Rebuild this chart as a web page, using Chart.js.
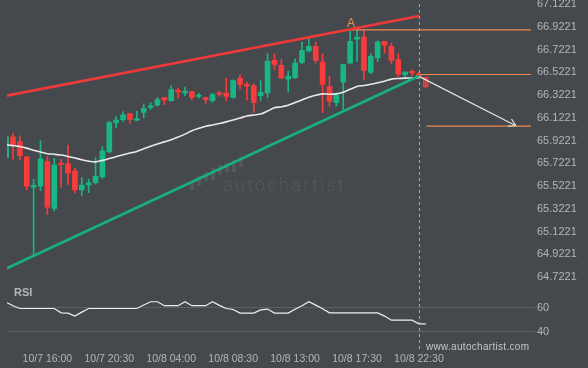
<!DOCTYPE html>
<html>
<head>
<meta charset="utf-8">
<script src="https://cdn.jsdelivr.net/npm/chart.js@4.4.1/dist/chart.umd.min.js"></script>
<style>
  html, body { margin: 0; padding: 0; background: #45484d; }
  canvas { display: block; }
</style>
</head>
<body>
<canvas id="chart" width="588" height="368"></canvas>
<script>
// 30 minute candles, index 0 = first visible bar, last one is the hollow forecast bar
const opens  = [65.773, 65.956, 65.911, 65.779, 65.513, 65.522, 65.737, 65.325, 65.719, 65.717,
                65.655, 65.489, 65.533, 65.551, 65.602, 65.823, 66.080, 66.106, 66.159, 66.103,
                66.171, 66.215, 66.233, 66.301, 66.274, 66.363, 66.342, 66.354, 66.310, 66.301,
                66.274, 66.341, 66.339, 66.303, 66.469, 66.416, 66.407, 66.318, 66.342, 66.628,
                66.584, 66.463, 66.475, 66.608, 66.711, 66.752, 66.613, 66.398, 66.257, 66.436,
                66.604, 66.814, 66.832, 66.525, 66.650, 66.795, 66.752, 66.634, 66.503, 66.525,
                66.509, 66.480];
const highs  = [65.965, 65.988, 65.964, 65.783, 65.581, 65.920, 65.779, 65.767, 65.758, 65.882,
                65.679, 65.595, 65.581, 65.772, 65.870, 66.091, 66.133, 66.177, 66.162, 66.181,
                66.245, 66.259, 66.303, 66.303, 66.404, 66.387, 66.392, 66.358, 66.339, 66.305,
                66.339, 66.358, 66.469, 66.456, 66.503, 66.436, 66.422, 66.451, 66.687, 66.686,
                66.637, 66.534, 66.641, 66.788, 66.826, 66.788, 66.687, 66.487, 66.341, 66.593,
                66.889, 66.894, 66.894, 66.686, 66.799, 66.796, 66.779, 66.693, 66.529, 66.547,
                66.522, 66.480];
const lows   = [65.765, 65.758, 65.755, 65.489, 64.902, 65.484, 65.272, 65.301, 65.513, 65.537,
                65.463, 65.440, 65.463, 65.542, 65.590, 65.817, 66.035, 66.091, 66.073, 66.097,
                66.121, 66.195, 66.227, 66.239, 66.268, 66.298, 66.318, 66.283, 66.295, 66.245,
                66.261, 66.314, 66.274, 66.296, 66.376, 66.279, 66.171, 66.274, 66.301, 66.549,
                66.469, 66.348, 66.469, 66.599, 66.702, 66.604, 66.168, 66.224, 66.226, 66.195,
                66.604, 66.619, 66.457, 66.509, 66.617, 66.690, 66.597, 66.487, 66.478, 66.494,
                66.478, 66.392];
const closes = [65.956, 65.885, 65.790, 65.522, 65.528, 65.761, 65.336, 65.708, 65.710, 65.637,
                65.489, 65.531, 65.551, 65.610, 65.832, 66.080, 66.103, 66.150, 66.109, 66.109,
                66.206, 66.227, 66.283, 66.277, 66.372, 66.351, 66.357, 66.303, 66.318, 66.283,
                66.327, 66.329, 66.310, 66.451, 66.416, 66.403, 66.257, 66.348, 66.619, 66.593,
                66.472, 66.487, 66.604, 66.717, 66.752, 66.628, 66.416, 66.268, 66.321, 66.591,
                66.796, 66.834, 66.540, 66.664, 66.790, 66.761, 66.628, 66.506, 66.525, 66.518,
                66.487, 66.392];

// moving average (white curve)
const maValues = [65.885, 65.878, 65.870, 65.856, 65.837, 65.822, 65.807, 65.802, 65.795, 65.782,
                  65.769, 65.754, 65.741, 65.735, 65.748, 65.764, 65.780, 65.798, 65.813, 65.826,
                  65.850, 65.872, 65.893, 65.911, 65.930, 65.953, 65.979, 66.009, 66.030, 66.049,
                  66.060, 66.072, 66.087, 66.104, 66.121, 66.138, 66.148, 66.156, 66.183, 66.211,
                  66.220, 66.233, 66.257, 66.280, 66.303, 66.322, 66.333, 66.330, 66.333, 66.348,
                  66.373, 66.398, 66.407, 66.418, 66.431, 66.445, 66.463, 66.469, 66.472, 66.473,
                  66.475];

// RSI pane
const rsiValues = [64.6, 61.7, 59.4, 59.4, 59.4, 59.4, 59.4, 59.4, 55.8, 55.6,
                   53.1, 56.4, 59.4, 59.4, 59.4, 59.4, 59.4, 59.4, 59.4, 59.4,
                   62.3, 65.0, 65.0, 61.7, 61.7, 61.7, 65.0, 61.7, 61.7, 61.7,
                   65.0, 62.0, 59.4, 58.6, 55.6, 55.6, 55.6, 58.2, 58.9, 55.6,
                   55.6, 55.6, 58.8, 61.7, 65.0, 62.2, 59.2, 55.8, 55.8, 55.8,
                   55.8, 55.8, 55.8, 55.8, 55.8, 53.1, 49.7, 49.7, 49.7, 49.7,
                   46.7, 46.7];
const rsiTicks = [40, 60];

// pattern lines (bar index, price)
const resistanceX = [0, 60];
const resistanceY = [66.317, 67.018];
const supportX = [0, 60];
const supportY = [64.795, 66.491];
const levelPrices = [66.897, 66.504, 66.050];
const levelStarts = [50, 60, 61.1];
const levelEnd = 76.3;
const arrowX = [60, 74.1];
const arrowY = [66.487, 66.053];
const peakIndex = 50;
const peakLabel = 'A';
const nowIndex = 60;

// axes
const timeLabels = ['10/7 16:00', '10/7 20:30', '10/8 04:00', '10/8 08:30', '10/8 13:00', '10/8 17:30', '10/8 22:30'];
const timeTickIndex = [6, 15, 24, 33, 42, 51, 60];
const priceTicks = [64.7221, 64.9221, 65.1221, 65.3221, 65.5221, 65.7221, 65.9221,
                    66.1221, 66.3221, 66.5221, 66.7221, 66.9221, 67.1221];

const GREEN = '#19b583';
const RED = '#f93b3b';
const ORANGE = '#ef8a4d';
const TEXT = '#b4b6b9';
const FONT = '"Liberation Sans", Arial, sans-serif';

const lastIdx = opens.length - 1;
const candleColor = opens.map((o, i) => closes[i] >= o ? GREEN : RED);

const toPoints = (xs, ys) => xs.map((x, i) => ({ x: x, y: ys[i] }));

const datasets = [
  {
    label: 'arrow', type: 'line', order: 1,
    data: toPoints(arrowX, arrowY),
    borderColor: '#e4e4e4', borderWidth: 1.2, pointRadius: 0
  },
  {
    label: 'resistance', type: 'line', order: 2,
    data: toPoints(resistanceX, resistanceY),
    borderColor: '#f03a3a', borderWidth: 2.6, pointRadius: 0
  },
  {
    label: 'support', type: 'line', order: 2,
    data: toPoints(supportX, supportY),
    borderColor: '#17b07e', borderWidth: 2.6, pointRadius: 0
  },
  {
    label: 'ma', type: 'line', order: 3,
    data: maValues.map((v, i) => ({ x: i, y: v })),
    borderColor: '#e9e9e9', borderWidth: 1.6, pointRadius: 0, tension: 0.3
  },
  {
    label: 'rsi', type: 'line', order: 3, yAxisID: 'rsi',
    data: rsiValues.map((v, i) => ({ x: i, y: v })),
    borderColor: '#eeeeee', borderWidth: 1.2, pointRadius: 0
  },
  {
    label: 'wicks', type: 'bar', order: 6, grouped: false,
    data: opens.map((o, i) => ({ x: i, y: [lows[i], highs[i]] })),
    backgroundColor: candleColor, barThickness: 1, borderWidth: 0
  },
  {
    label: 'bodies', type: 'bar', order: 5, grouped: false,
    data: opens.map((o, i) => ({ x: i, y: [o, closes[i]] })),
    backgroundColor: candleColor.map((c, i) => i === lastIdx ? 'rgba(0,0,0,0)' : c),
    borderColor: candleColor,
    borderWidth: opens.map((o, i) => i === lastIdx ? 1 : 0),
    borderSkipped: false,
    barThickness: 5, minBarLength: 1.5
  }
];

levelPrices.forEach((p, k) => {
  datasets.push({
    label: 'level' + k, type: 'line', order: 4,
    data: [{ x: levelStarts[k], y: p }, { x: levelEnd, y: p }],
    borderColor: ORANGE, borderWidth: 1.2, pointRadius: 0
  });
});

// no automatic half-label padding, the panes must fill the canvas exactly
const noEdgePadding = (s) => {
  s.paddingTop = 0; s.paddingBottom = 0; s.paddingLeft = 0; s.paddingRight = 0;
};

const decorations = {
  id: 'decorations',
  beforeDraw(chart) {
    const ctx = chart.ctx;
    ctx.save();
    ctx.fillStyle = '#45484d';
    ctx.fillRect(0, 0, chart.width, chart.height);
    ctx.restore();
  },
  beforeDatasetsDraw(chart) {
    // autochartist watermark
    const ctx = chart.ctx;
    ctx.save();
    ctx.fillStyle = '#55585d';
    const bars = [[190, 182, 8], [197, 176, 10], [204, 172, 9], [211, 168, 12], [218, 165, 10],
                  [225, 163, 9], [232, 160, 12], [239, 157, 10]];
    bars.forEach(b => ctx.fillRect(b[0], b[1], 4, b[2]));
    ctx.font = '300 18px Roboto, "Noto Sans", sans-serif';
    ctx.letterSpacing = '2.3px';
    ctx.textBaseline = 'alphabetic';
    ctx.fillText('autochartist', 223, 191);
    ctx.restore();
  },
  afterDatasetsDraw(chart) {
    const ctx = chart.ctx;
    const xs = chart.scales.x, ys = chart.scales.y, rs = chart.scales.rsi;
    const area = chart.chartArea;
    ctx.save();

    // "now" dashed line
    const nx = Math.round(xs.getPixelForValue(nowIndex)) + 0.5;
    ctx.strokeStyle = '#a6a8ab';
    ctx.lineWidth = 1;
    ctx.setLineDash([3, 3]);
    ctx.beginPath();
    ctx.moveTo(nx, area.top + 4);
    ctx.lineTo(nx, area.bottom + 5);
    ctx.stroke();
    ctx.setLineDash([]);

    // arrow head
    const pts = chart.getDatasetMeta(0).data;
    const a = pts[0], b = pts[1];
    const ang = Math.atan2(b.y - a.y, b.x - a.x);
    ctx.strokeStyle = '#e4e4e4';
    ctx.lineWidth = 1.2;
    ctx.beginPath();
    [-0.52, 0.52].forEach(d => {
      ctx.moveTo(b.x, b.y);
      ctx.lineTo(b.x - 8 * Math.cos(ang + d), b.y - 8 * Math.sin(ang + d));
    });
    ctx.stroke();

    // pattern point label
    ctx.fillStyle = ORANGE;
    ctx.font = '12px ' + FONT;
    ctx.textAlign = 'center';
    ctx.textBaseline = 'bottom';
    ctx.fillText(peakLabel, xs.getPixelForValue(peakIndex) + 1, ys.getPixelForValue(highs[peakIndex]) - 1);

    // RSI caption
    ctx.fillStyle = TEXT;
    ctx.font = 'bold 11px ' + FONT;
    ctx.textAlign = 'left';
    ctx.textBaseline = 'middle';
    ctx.fillText('RSI', 14, rs.top + 8);

    // site
    ctx.fillStyle = '#c4c6c9';
    ctx.font = '10px ' + FONT;
    ctx.letterSpacing = '0.3px';
    ctx.textBaseline = 'middle';
    ctx.fillText('www.autochartist.com', 426, area.bottom);
    ctx.restore();
  }
};

new Chart(document.getElementById('chart'), {
  type: 'line',
  data: { datasets: datasets },
  plugins: [decorations],
  options: {
    responsive: false,
    animation: false,
    devicePixelRatio: 1,
    layout: { autoPadding: false, padding: { left: 7, right: 0, top: 0, bottom: 0 } },
    plugins: { legend: { display: false }, tooltip: { enabled: false } },
    scales: {
      x: {
        type: 'linear', min: 0.13, max: 76.87, offset: false,
        grid: { display: false, drawTicks: false },
        border: { display: false },
        ticks: {
          padding: 6, autoSkip: false, maxRotation: 0, color: TEXT,
          font: { family: FONT, size: 10.5 },
          callback: (v) => timeLabels[timeTickIndex.indexOf(v)]
        },
        afterBuildTicks: (s) => { s.ticks = timeTickIndex.map(v => ({ value: v })); },
        afterFit: (s) => { s.height = 21; noEdgePadding(s); }
      },
      y: {
        type: 'linear', position: 'right', stack: 'panes', stackWeight: 283,
        min: 64.6548, max: 67.1593,
        grid: { display: false, drawTicks: false },
        border: { display: false },
        ticks: {
          padding: 2, autoSkip: false, color: TEXT,
          font: { family: FONT, size: 11 },
          callback: (v) => v.toFixed(4)
        },
        afterBuildTicks: (s) => { s.ticks = priceTicks.map(v => ({ value: v })); },
        afterFit: (s) => { s.width = 53; noEdgePadding(s); }
      },
      rsi: {
        type: 'linear', axis: 'y', position: 'right', stack: 'panes', stackWeight: 62,
        min: 27.5, max: 79.17,
        grid: { color: '#5d6065', drawTicks: false },
        border: { display: false },
        ticks: {
          padding: 2, autoSkip: false, color: TEXT,
          font: { family: FONT, size: 11 }
        },
        afterBuildTicks: (s) => { s.ticks = rsiTicks.map(v => ({ value: v })); },
        afterFit: (s) => { s.width = 53; noEdgePadding(s); }
      }
    }
  }
});
</script>
</body>
</html>
